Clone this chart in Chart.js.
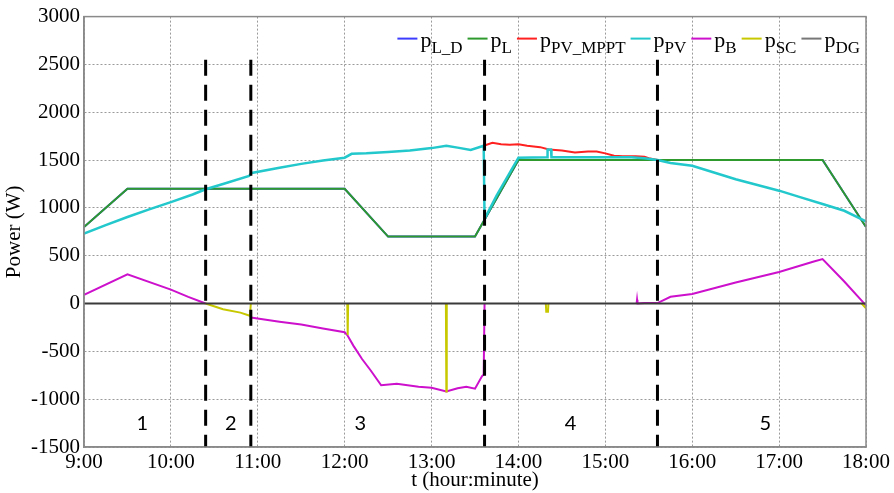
<!DOCTYPE html>
<html>
<head>
<meta charset="utf-8">
<script src="https://cdn.jsdelivr.net/npm/chart.js@4.4.0/dist/chart.umd.min.js"></script>
<style>
  html, body { margin: 0; padding: 0; background: #fff; }
</style>
</head>
<body>
<canvas id="powerChart" width="894" height="493"></canvas>
<script>
// datos (t en horas, potencias en W)
const tL = [9, 9.5, 12, 12.5, 13.5, 14, 17.5, 18];
const pL = [800, 1200, 1200, 700, 700, 1500, 1500, 800];
const pLD = [800, 1200, 1200, 700, 700, 1500, 1500, 800];

const tPV = [9, 9.25, 9.5, 9.75, 10, 10.25, 10.4, 10.6, 10.9, 10.93, 11.25, 11.5, 11.75, 12, 12.08, 12.25, 12.5, 12.75, 13, 13.17, 13.3, 13.45, 13.6,
  13.61, 13.75, 14, 14.33, 14.335, 14.375, 14.38, 15.3, 15.45, 15.6, 15.75, 16, 16.25, 16.5, 16.75, 17, 17.25, 17.5, 17.75, 18];
const pPV = [730, 820, 905, 985, 1060, 1140, 1195, 1250, 1335, 1365, 1420, 1460, 1495, 1525, 1565, 1570, 1585, 1600, 1625, 1650, 1630, 1605, 1650,
  885, 1130, 1525, 1530, 1610, 1610, 1530, 1530, 1520, 1500, 1470, 1440, 1370, 1300, 1240, 1180, 1110, 1040, 970, 860];

const tMPPT = [13.6, 13.7, 13.8, 13.9, 14, 14.1, 14.25, 14.35, 14.5, 14.65, 14.8, 14.9, 15, 15.1, 15.2, 15.35, 15.45, 15.5, 15.6];
const pMPPT = [1650, 1680, 1665, 1660, 1665, 1650, 1635, 1610, 1600, 1580, 1590, 1590, 1570, 1545, 1540, 1540, 1535, 1520, 1500];

// null = tramo en cero tapado por p_DG
const tB = [9, 9.5, 10, 10.2, 10.4, 10.41, 10.92, 11.25, 11.5, 11.75, 12, 12.03, 12.1, 12.2, 12.3, 12.42, 12.6, 12.85, 13, 13.17, 13.3, 13.4, 13.5, 13.58, 13.6,
  13.61, 13.62, 15.36, 15.365, 15.37, 15.45, 15.6, 15.75, 16, 16.5, 17, 17.4, 17.5, 17.75, 18];
const pB = [90, 305, 145, 70, 0, null, -145, -190, -220, -260, -300, -330, -440, -580, -700, -855, -840, -870, -880, -920, -885, -870, -890, -760, -740,
  0, null, 0, 40, 0, 5, 5, 70, 100, 220, 330, 440, 465, 230, -20];

const tSC = [10.4, 10.6, 10.8, 10.91, 10.92, 10.93, 12.03, 12.035, 12.04, 12.05, 13.165, 13.17, 13.175, 13.18,
  14.315, 14.32, 14.34, 14.345, 14.35, 17.95, 18];
const pSC = [0, -60, -95, -128, 0, null, 0, -330, 0, null, 0, -920, 0, null,
  0, -85, -85, 0, null, 0, -50];

const tDG = [9, 18];
const pDG = [0, 0];

// limites de las etapas y sus numeros
const phaseBounds = [10.4, 10.92, 13.61, 15.6];
const phaseTop = 2550;
const phaseNames = ['1', '2', '3', '4', '5'];
const phaseLabelT = [9.67, 10.69, 12.18, 14.6, 16.84];
const phaseLabelP = -1260;

const serifFont = '"Liberation Serif", "Times New Roman", serif';

function pts(ts, ps) {
  return ts.map((t, i) => ({ x: t, y: ps[i] }));
}

function serie(sub, ts, ps, color, order, width) {
  return {
    label: 'p_' + sub,
    sub: sub,
    data: pts(ts, ps),
    borderColor: color,
    backgroundColor: color,
    borderWidth: width || 2,
    pointRadius: 0,
    fill: false,
    spanGaps: false,
    tension: 0,
    order: order
  };
}

const datasets = [
  serie('L_D', tL, pLD, '#3c3cff', 8),
  serie('L', tL, pL, '#2e9a2e', 7),
  serie('PV_MPPT', tMPPT, pMPPT, '#ff2020', 6),
  serie('PV', tPV, pPV, '#22c8cc', 5, 2.5),
  serie('B', tB, pB, '#cc10cc', 4),
  serie('SC', tSC, pSC, '#c8c800', 3),
  serie('DG', tDG, pDG, '#3a3a3a', 2, 2)
];

// lineas discontinuas entre etapas
phaseBounds.forEach(b => {
  datasets.push({
    label: 'limite',
    data: [{ x: b, y: phaseTop }, { x: b, y: -1500 }],
    borderColor: '#000',
    borderWidth: 3,
    borderDash: [16, 9],
    pointRadius: 0,
    fill: false,
    order: 0
  });
});

// marco, numeros de etapa y leyenda con subindices
const extras = {
  id: 'extras',
  afterDraw(chart) {
    const { ctx, chartArea: a, scales: { x, y } } = chart;
    ctx.save();
    ctx.setLineDash([]);
    ctx.strokeStyle = '#8a8a8a';
    ctx.lineWidth = 1.5;
    ctx.strokeRect(a.left, a.top, a.right - a.left, a.bottom - a.top);

    ctx.fillStyle = '#000';
    ctx.font = '20px Lato, "Open Sans", sans-serif';
    ctx.textAlign = 'center';
    ctx.textBaseline = 'middle';
    phaseNames.forEach((n, i) => {
      ctx.fillText(n, x.getPixelForValue(phaseLabelT[i]), y.getPixelForValue(phaseLabelP));
    });

    const items = chart.data.datasets.filter(d => d.sub);
    const pFont = '22px ' + serifFont;
    const sFont = '17px ' + serifFont;
    const sw = 20, gap = 3, sep = 5;
    const widths = items.map(d => {
      ctx.font = pFont;
      const wp = ctx.measureText('p').width;
      ctx.font = sFont;
      const ws = ctx.measureText(d.sub).width;
      return { wp, ws, w: sw + gap + wp + ws };
    });
    const total = widths.reduce((s, w) => s + w.w, 0) + sep * (items.length - 1);
    let cx = a.right - 6 - total;
    const ly = a.top + 22;
    ctx.textAlign = 'left';
    ctx.textBaseline = 'alphabetic';
    items.forEach((d, i) => {
      ctx.strokeStyle = d.sub === 'DG' ? '#777' : d.borderColor;
      ctx.lineWidth = 2;
      ctx.beginPath();
      ctx.moveTo(cx, ly);
      ctx.lineTo(cx + sw, ly);
      ctx.stroke();
      ctx.fillStyle = '#000';
      ctx.font = pFont;
      ctx.fillText('p', cx + sw + gap, ly + 8);
      ctx.font = sFont;
      ctx.fillText(d.sub, cx + sw + gap + widths[i].wp, ly + 14);
      cx += widths[i].w + sep;
    });
    ctx.restore();
  }
};

const ctx = document.getElementById('powerChart').getContext('2d');
const powerChart = new Chart(ctx, {
  type: 'line',
  data: { datasets: datasets },
  options: {
    responsive: false,
    animation: false,
    events: [],
    layout: { padding: { left: 0, top: 15, right: 28, bottom: 0 } },
    plugins: {
      legend: { display: false },
      tooltip: { enabled: false }
    },
    scales: {
      x: {
        type: 'linear',
        min: 9,
        max: 18,
        afterFit: s => { s.height = 46; },
        ticks: {
          stepSize: 1,
          padding: 3,
          color: '#000',
          font: { family: serifFont, size: 21 },
          callback: v => v + ':00'
        },
        grid: { color: '#9a9a9a', lineWidth: 1, drawTicks: false },
        border: { display: true, color: '#8a8a8a', width: 1.5, dash: [2, 2] },
        title: {
          display: true,
          text: 't (hour:minute)',
          color: '#000',
          font: { family: serifFont, size: 21 },
          padding: { top: 0, bottom: 0 }
        }
      },
      y: {
        min: -1500,
        max: 3000,
        afterFit: s => { s.width = 84; },
        ticks: {
          stepSize: 500,
          padding: 4,
          color: '#000',
          font: { family: serifFont, size: 21 },
          callback: v => String(v)
        },
        grid: { color: '#9a9a9a', lineWidth: 1, drawTicks: false },
        border: { display: true, color: '#8a8a8a', width: 1.5, dash: [2, 2] },
        title: {
          display: true,
          text: 'Power (W)',
          color: '#000',
          font: { family: serifFont, size: 21 },
          padding: { top: 2, bottom: 0 }
        }
      }
    }
  },
  plugins: [extras]
});
</script>
</body>
</html>
